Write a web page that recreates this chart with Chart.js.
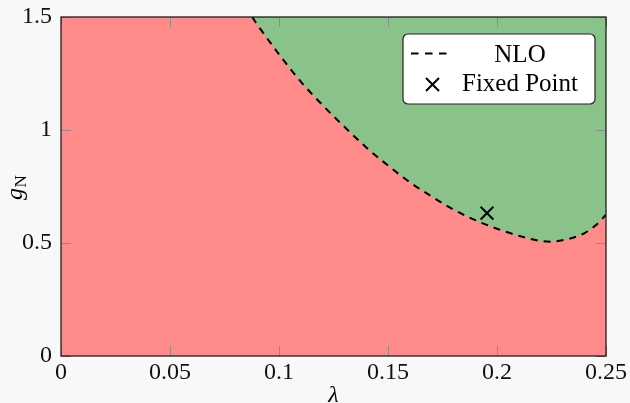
<!DOCTYPE html>
<html>
<head>
<meta charset="utf-8">
<script src="https://cdn.jsdelivr.net/npm/chart.js@4.4.1/dist/chart.umd.min.js"></script>
<style>
  html, body { margin: 0; padding: 0; background: #f8f8f8; }
  #wrap { width: 630px; height: 403px; position: relative; }
  canvas { display: block; }
</style>
</head>
<body>
<div id="wrap"><canvas id="chart" width="630" height="403"></canvas></div>
<script>
// NLO boundary curve g_N(λ)
const lambdaValues = [0.0877, 0.09, 0.10, 0.11, 0.12, 0.13, 0.14, 0.15, 0.16, 0.17,
                      0.18, 0.19, 0.20, 0.21, 0.22, 0.2245, 0.23, 0.24, 0.245, 0.25];
const gNValues     = [1.500, 1.467, 1.335, 1.214, 1.110, 1.014, 0.923, 0.843, 0.769, 0.706,
                      0.648, 0.601, 0.563, 0.532, 0.509, 0.506, 0.512, 0.543, 0.576, 0.625];

// Fixed point
const fixedPointLambda = [0.1954];
const fixedPointG = [0.632];

// Axis ranges and ticks
const lambdaRange = [0, 0.25];
const gRange = [0, 1.5];
const xTickValues = [0, 0.05, 0.1, 0.15, 0.2, 0.25];
const yTickValues = [0, 0.5, 1, 1.5];
const legendLabels = ['NLO', 'Fixed Point'];

const SERIF = '"Liberation Serif", "Times New Roman", serif';
const RED = '#ff8a8a';
const GREEN = '#8ac38a';

const curvePoints = lambdaValues.map((l, i) => ({ x: l, y: gNValues[i] }));
const fixedPoints = fixedPointLambda.map((l, i) => ({ x: l, y: fixedPointG[i] }));
// whole plane as the base region; the NLO dataset paints the area above the curve
const basePoints = lambdaRange.map(l => ({ x: l, y: gRange[1] }));

const framePlugin = {
  id: 'frameAndLegend',
  afterDatasetsDraw(chart) {
    const { ctx, chartArea: a, scales: { x, y } } = chart;
    ctx.save();
    // inward tick marks on all four sides
    ctx.strokeStyle = '#8c8c8c';
    ctx.lineWidth = 1;
    ctx.beginPath();
    xTickValues.forEach(v => {
      const px = Math.round(x.getPixelForValue(v)) + 0.5;
      ctx.moveTo(px, a.bottom); ctx.lineTo(px, a.bottom - 10);
      ctx.moveTo(px, a.top); ctx.lineTo(px, a.top + 10);
    });
    yTickValues.forEach(v => {
      const py = Math.round(y.getPixelForValue(v)) + 0.5;
      ctx.moveTo(a.left, py); ctx.lineTo(a.left + 10, py);
      ctx.moveTo(a.right, py); ctx.lineTo(a.right - 10, py);
    });
    ctx.stroke();
    // plot frame
    ctx.strokeStyle = '#1e1e1e';
    ctx.lineWidth = 1.3;
    ctx.strokeRect(a.left, a.top, a.right - a.left, a.bottom - a.top);
    ctx.restore();
  },
  afterDraw(chart) {
    const { ctx, chartArea: a } = chart;
    ctx.save();
    // legend box
    const w = 192, h = 70;
    const x0 = a.right - 11 - w, y0 = a.top + 17;
    ctx.beginPath();
    ctx.roundRect(x0, y0, w, h, 5);
    ctx.fillStyle = '#ffffff';
    ctx.fill();
    ctx.strokeStyle = '#222';
    ctx.lineWidth = 1.2;
    ctx.stroke();

    // dashed sample
    ctx.strokeStyle = '#000';
    ctx.lineWidth = 2;
    ctx.setLineDash([7.5, 6.5]);
    ctx.beginPath();
    ctx.moveTo(x0 + 8, y0 + 19.5);
    ctx.lineTo(x0 + 45, y0 + 19.5);
    ctx.stroke();
    ctx.setLineDash([]);

    // cross sample
    const cx = x0 + 29.5, cy = y0 + 50.5, r = 6.5;
    ctx.beginPath();
    ctx.moveTo(cx - r, cy - r); ctx.lineTo(cx + r, cy + r);
    ctx.moveTo(cx + r, cy - r); ctx.lineTo(cx - r, cy + r);
    ctx.stroke();

    ctx.fillStyle = '#000';
    ctx.font = '25px ' + SERIF;
    ctx.textAlign = 'center';
    ctx.textBaseline = 'alphabetic';
    ctx.fillText(legendLabels[0], x0 + 117, y0 + 27.5);
    ctx.fillText(legendLabels[1], x0 + 117, y0 + 56.5);

    // axis titles
    ctx.font = 'italic 24px ' + SERIF;
    ctx.fillText('λ', (a.left + a.right) / 2, 401.5);

    ctx.translate(21.5, 200);
    ctx.rotate(-Math.PI / 2);
    ctx.textAlign = 'left';
    ctx.font = 'italic 24px ' + SERIF;
    ctx.fillText('g', 0, 0);
    const wg = ctx.measureText('g').width;
    ctx.font = '17px ' + SERIF;
    ctx.fillText('N', wg + 0.5, 4);
    ctx.restore();
  }
};

const tickFont = { family: SERIF, size: 24 };
const noScalePadding = s => {
  s.paddingLeft = 0; s.paddingRight = 0; s.paddingTop = 0; s.paddingBottom = 0;
};

new Chart(document.getElementById('chart'), {
  type: 'scatter',
  data: {
    datasets: [
      {
        label: 'base',
        data: basePoints,
        showLine: true,
        fill: 'start',
        backgroundColor: RED,
        borderColor: 'transparent',
        borderWidth: 0,
        pointRadius: 0,
        order: 3
      },
      {
        label: legendLabels[0],
        data: curvePoints,
        showLine: true,
        fill: 'end',
        backgroundColor: GREEN,
        borderColor: '#000',
        borderWidth: 2,
        borderDash: [7, 6],
        cubicInterpolationMode: 'monotone',
        pointRadius: 0,
        order: 2
      },
      {
        label: legendLabels[1],
        data: fixedPoints,
        pointStyle: 'crossRot',
        pointRadius: 9,
        borderColor: '#000',
        backgroundColor: '#000',
        borderWidth: 2,
        order: 1
      }
    ]
  },
  options: {
    responsive: false,
    animation: false,
    devicePixelRatio: 1,
    layout: { padding: { left: 0, top: 17, right: 24, bottom: 0 } },
    plugins: { legend: { display: false }, tooltip: { enabled: false } },
    scales: {
      x: {
        type: 'linear',
        min: lambdaRange[0],
        max: lambdaRange[1],
        afterBuildTicks: s => { s.ticks = xTickValues.map(v => ({ value: v })); },
        afterFit: s => { s.height = 47; noScalePadding(s); },
        grid: { display: false, drawTicks: false },
        border: { display: false },
        ticks: {
          font: tickFont, color: '#111', padding: 2,
          maxRotation: 0, autoSkip: false,
          callback: v => String(v)
        }
      },
      y: {
        type: 'linear',
        min: gRange[0],
        max: gRange[1],
        afterBuildTicks: s => { s.ticks = yTickValues.map(v => ({ value: v })); },
        afterFit: s => { s.width = 61; noScalePadding(s); },
        grid: { display: false, drawTicks: false },
        border: { display: false },
        ticks: {
          font: tickFont, color: '#111', padding: 9,
          autoSkip: false,
          callback: v => String(v)
        }
      }
    }
  },
  plugins: [framePlugin]
});
</script>
</body>
</html>
